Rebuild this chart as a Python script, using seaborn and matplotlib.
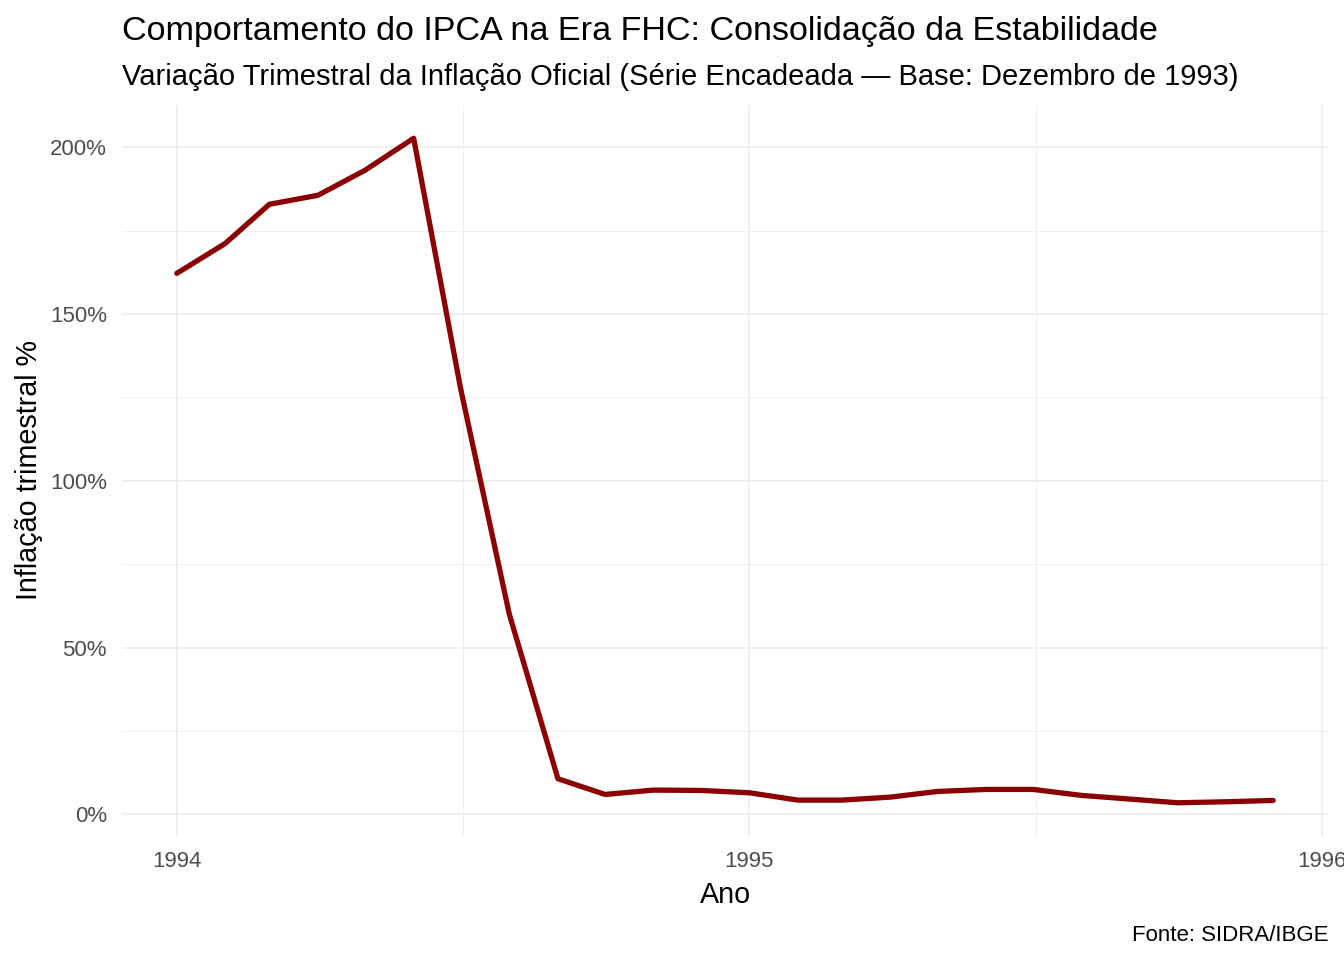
import numpy as np
import pandas as pd
import matplotlib
matplotlib.use("Agg")
import matplotlib.pyplot as plt
import matplotlib.dates as mdates
from matplotlib.ticker import FuncFormatter, MultipleLocator
import seaborn as sns

# dados: inflação trimestral (%) - janela móvel de 3 meses
meses = pd.date_range("1994-01-01", "1995-12-01", freq="MS")
ipca_tri = [162.2, 171.2, 182.9, 185.6, 193.1, 202.7, 127.5, 60.0, 10.7, 6.0, 7.3, 7.2,
            6.5, 4.3, 4.3, 5.2, 6.9, 7.5, 7.5, 5.7, 4.6, 3.5, 3.8, 4.2]
anos_ticks = ["1994-01-01", "1995-01-01", "1996-01-01"]

df = pd.DataFrame({"data": meses, "ipca": ipca_tri})

sns.set_theme(style="white")
plt.rcParams["font.family"] = ["Liberation Sans", "DejaVu Sans"]
plt.rcParams["text.color"] = "black"

fig = plt.figure(figsize=(13.44, 9.6), dpi=100)
ax = fig.add_axes([122/1344, 1 - 836/960, (1328-122)/1344, (836-105)/960])

sns.lineplot(data=df, x="data", y="ipca", color="#8B0000", linewidth=3.8, ax=ax)

# limites com expansão de 5% (como ggplot)
x0, x1 = mdates.date2num(df["data"].min()), mdates.date2num(df["data"].max())
dx = (x1 - x0) * 0.05
ax.set_xlim(x0 - dx, x1 + dx)
y0, y1 = df["ipca"].min(), df["ipca"].max()
dy = (y1 - y0) * 0.05
ax.set_ylim(y0 - dy, y1 + dy)

major = mdates.date2num(pd.to_datetime(anos_ticks))
ax.set_xticks(major)
ax.set_xticks((major[:-1] + major[1:]) / 2, minor=True)
ax.xaxis.set_major_formatter(mdates.DateFormatter("%Y"))

ax.yaxis.set_major_locator(MultipleLocator(50))
ax.set_yticks(np.arange(25, 200, 50), minor=True)
ax.yaxis.set_major_formatter(FuncFormatter(lambda v, p: f"{v:.0f}%"))

ax.grid(which="major", color="#EBEBEB", linewidth=1.1)
ax.grid(which="minor", color="#EBEBEB", linewidth=0.55)
ax.set_axisbelow(True)
for s in ax.spines.values():
    s.set_visible(False)

ax.tick_params(axis="both", which="both", length=0, labelsize=16, labelcolor="#4D4D4D")
ax.tick_params(axis="x", pad=10.5)
ax.tick_params(axis="y", pad=10.8)

ax.set_xlabel("Ano", fontsize=20.7, color="black", labelpad=7)
ax.set_ylabel("Inflação trimestral %", fontsize=20.7, color="black", labelpad=5)

fig.text(122/1344, 1 - 40/960, "Comportamento do IPCA na Era FHC: Consolidação da Estabilidade",
         fontsize=24.6, ha="left", va="baseline", color="black")
fig.text(122/1344, 1 - 85/960,
         "Variação Trimestral da Inflação Oficial (Série Encadeada — Base: Dezembro de 1993)",
         fontsize=21, ha="left", va="baseline", color="black")
fig.text(1328/1344, 1 - 941/960, "Fonte: SIDRA/IBGE", fontsize=16, ha="right", va="baseline",
         color="black")

fig.savefig("out.png", dpi=100)
